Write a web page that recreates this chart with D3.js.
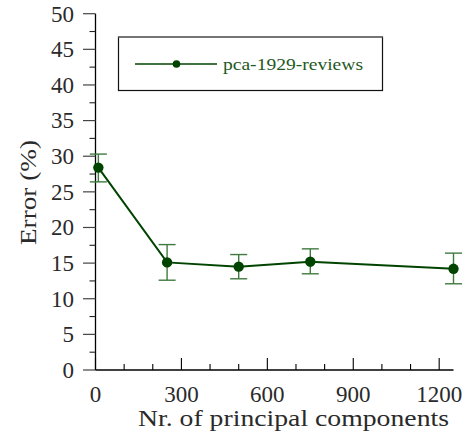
<!DOCTYPE html>
<html><head><meta charset="utf-8">
<script src="https://cdn.jsdelivr.net/npm/d3@7"></script>
<style>body{margin:0;background:#fff}svg{display:block}</style>
</head><body>
<script>
const components = [10, 250, 500, 750, 1250];
const errorMean = [28.4, 15.1, 14.5, 15.2, 14.2];
const errorLow = [26.4, 12.6, 12.8, 13.5, 12.1];
const errorHigh = [30.3, 17.6, 16.2, 17.0, 16.4];
const xTicks = [0, 300, 600, 900, 1200];
const xMinorTicks = [100, 200, 400, 500, 700, 800, 1000, 1100];
const yTicks = [0, 5, 10, 15, 20, 25, 30, 35, 40, 45, 50];
const yMinorTicks = [2.5, 7.5, 12.5, 17.5, 22.5, 27.5, 32.5, 37.5, 42.5, 47.5];
const seriesName = "pca-1929-reviews";

const FONT = "'Liberation Serif', 'DejaVu Serif', serif";
const W = 466, H = 438;
const svg = d3.select("body").append("svg").attr("width", W).attr("height", H)
  .attr("font-family", FONT);
const x = d3.scaleLinear().domain([0, 1250]).range([95.5, 453.5]);
const y = d3.scaleLinear().domain([0, 50]).range([370, 13.7]);
const lineCol = "#004400", errCol = "#3f7a3f";

// axes
svg.append("line").attr("x1", x(0)).attr("x2", x(0)).attr("y1", y(50)).attr("y2", y(0)).attr("stroke", "#000").attr("stroke-width", 1.3);
svg.append("line").attr("x1", x(0)).attr("x2", x(1250)).attr("y1", y(0)).attr("y2", y(0)).attr("stroke", "#000").attr("stroke-width", 1.3);

// y ticks (outward)
svg.selectAll(".ymaj").data(yTicks).enter().append("line")
  .attr("x1", x(0) - 12.5).attr("x2", x(0)).attr("y1", d => y(d)).attr("y2", d => y(d))
  .attr("stroke", "#444").attr("stroke-width", 1.2);
svg.selectAll(".ymin").data(yMinorTicks).enter().append("line")
  .attr("x1", x(0) - 6).attr("x2", x(0)).attr("y1", d => y(d)).attr("y2", d => y(d))
  .attr("stroke", "#222").attr("stroke-width", 1.1);
svg.selectAll(".ylab").data(yTicks).enter().append("text")
  .attr("x", 74).attr("y", d => y(d) + 7.8).attr("text-anchor", "end")
  .attr("font-size", 23).attr("fill", "#2a2a2a").text(d => d);

// x ticks (inward)
svg.selectAll(".xmaj").data(xTicks).enter().append("line")
  .attr("x1", d => x(d)).attr("x2", d => x(d)).attr("y1", y(0) - 12).attr("y2", y(0))
  .attr("stroke", "#000").attr("stroke-width", 1.1);
svg.selectAll(".xmin").data(xMinorTicks).enter().append("line")
  .attr("x1", d => x(d)).attr("x2", d => x(d)).attr("y1", y(0) - 6).attr("y2", y(0))
  .attr("stroke", "#000").attr("stroke-width", 1.1);
svg.selectAll(".xlab").data(xTicks).enter().append("text")
  .attr("x", d => x(d)).attr("y", 401.5).attr("text-anchor", "middle")
  .attr("font-size", 23).attr("fill", "#2a2a2a").text(d => d);

svg.append("text").attr("x", 138).attr("y", 425.5)
  .attr("font-size", 22.5).attr("fill", "#2a2a2a")
  .attr("textLength", 311).attr("lengthAdjust", "spacingAndGlyphs")
  .text("Nr. of principal components");
svg.append("text").attr("transform", "translate(36,245) rotate(-90)")
  .attr("font-size", 22.5).attr("fill", "#2a2a2a")
  .attr("textLength", 105).attr("lengthAdjust", "spacingAndGlyphs")
  .text("Error (%)");

// error bars
const data = components.map((c, i) => ({c, m: errorMean[i], lo: errorLow[i], hi: errorHigh[i]}));
const eb = svg.append("g").attr("stroke", errCol).attr("stroke-width", 1.4);
data.forEach(d => {
  eb.append("line").attr("x1", x(d.c)).attr("x2", x(d.c)).attr("y1", y(d.lo)).attr("y2", y(d.hi));
  eb.append("line").attr("x1", x(d.c) - 8.5).attr("x2", x(d.c) + 8.5).attr("y1", y(d.lo)).attr("y2", y(d.lo));
  eb.append("line").attr("x1", x(d.c) - 8.5).attr("x2", x(d.c) + 8.5).attr("y1", y(d.hi)).attr("y2", y(d.hi));
});

svg.append("path").datum(data)
  .attr("d", d3.line().x(d => x(d.c)).y(d => y(d.m)))
  .attr("fill", "none").attr("stroke", lineCol).attr("stroke-width", 2);
svg.selectAll(".pt").data(data).enter().append("circle")
  .attr("cx", d => x(d.c)).attr("cy", d => y(d.m)).attr("r", 5.2).attr("fill", lineCol);

// legend
svg.append("rect").attr("x", 118.5).attr("y", 37).attr("width", 264).attr("height", 53.5)
  .attr("fill", "#fff").attr("stroke", "#111").attr("stroke-width", 1.2);
svg.append("line").attr("x1", 118.5).attr("x2", 382.5).attr("y1", 37).attr("y2", 37).attr("stroke", "#777").attr("stroke-width", 1.4);
svg.append("line").attr("x1", 135).attr("x2", 217).attr("y1", 64).attr("y2", 64).attr("stroke", lineCol).attr("stroke-width", 1.6);
svg.append("circle").attr("cx", 176.5).attr("cy", 64).attr("r", 3.8).attr("fill", lineCol);
svg.append("text").attr("x", 223).attr("y", 69.5).attr("font-size", 17).attr("fill", "#1e5a1e")
  .attr("textLength", 140).attr("lengthAdjust", "spacingAndGlyphs").text(seriesName);
</script>
</body></html>
